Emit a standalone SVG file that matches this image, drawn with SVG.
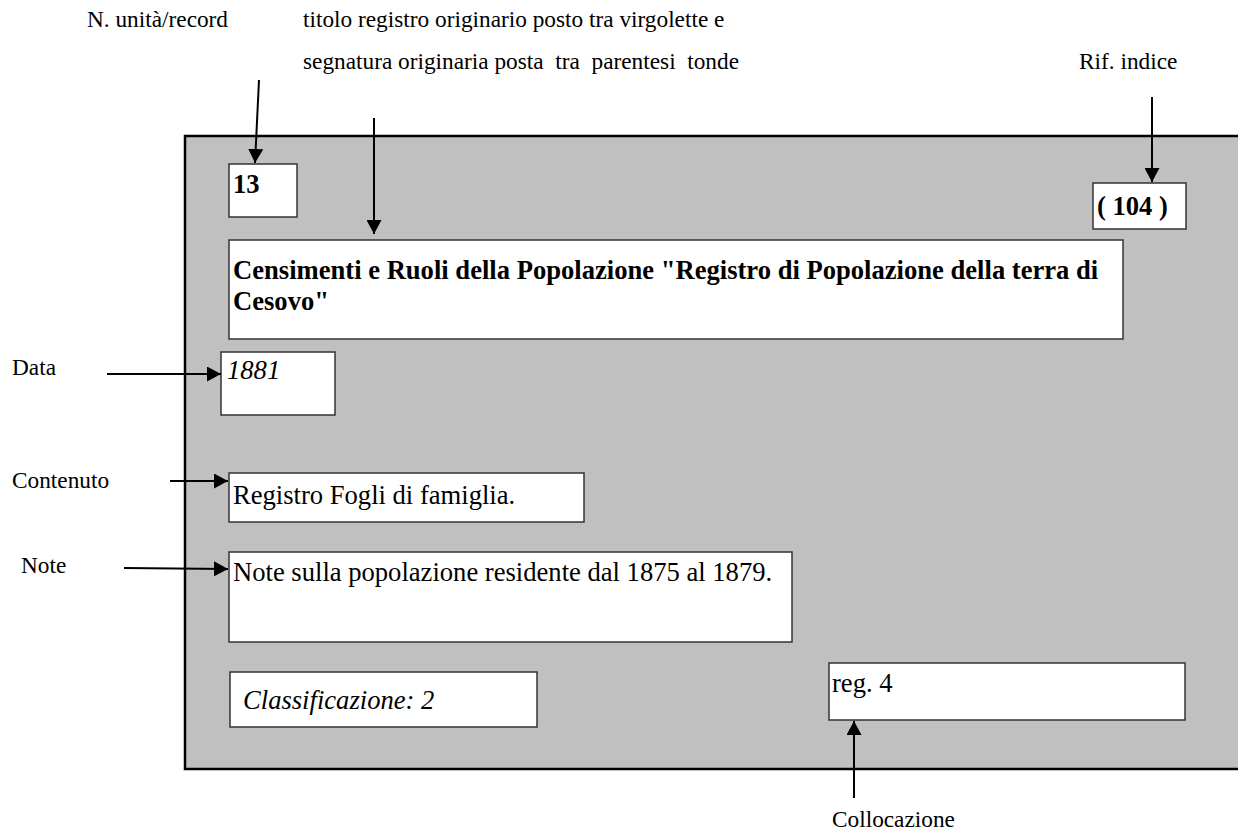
<svg xmlns="http://www.w3.org/2000/svg" width="1238" height="833" viewBox="0 0 1238 833">
<style>
.lbl{font-family:"Liberation Serif","Times New Roman",serif;font-size:23.3px;fill:#000}
.in{font-family:"Liberation Serif","Times New Roman",serif;font-size:26.6px;fill:#000}
.b{font-weight:bold}
.i{font-style:italic}
.box{fill:#fff;stroke:#333;stroke-width:1.5}
.con{stroke:#000;stroke-width:2;fill:none}
</style>
<defs>
<marker id="ah" viewBox="0 0 14 15" refX="14" refY="7.5" markerWidth="14" markerHeight="15" markerUnits="userSpaceOnUse" orient="auto">
<path d="M0,0 L14,7.5 L0,15 z" fill="#000"/>
</marker>
</defs>
<rect x="0" y="0" width="1238" height="833" fill="#fff"/>
<g id="panel">
<rect x="185" y="136" width="1070" height="633" fill="#c0c0c0" stroke="#000" stroke-width="2.5"/>
</g>
<g id="labels">
<text class="lbl" x="87" y="27">N. unità/record</text>
<text class="lbl" x="303" y="27">titolo registro originario posto tra virgolette e</text>
<text class="lbl" x="303" y="69" xml:space="preserve">segnatura originaria posta  tra  parentesi  tonde</text>
<text class="lbl" x="1079" y="69">Rif. indice</text>
<text class="lbl" x="12" y="375">Data</text>
<text class="lbl" x="12" y="488">Contenuto</text>
<text class="lbl" x="21" y="573">Note</text>
<text class="lbl" x="832" y="827">Collocazione</text>
</g>
<g id="node-numero">
<rect class="box" x="229" y="164" width="68" height="53"/>
<text class="in b" x="233" y="193">13</text>
</g>
<g id="node-rif">
<rect class="box" x="1093" y="183" width="93" height="46"/>
<text class="in b" x="1097" y="215">( 104 )</text>
</g>
<g id="node-titolo">
<rect class="box" x="229" y="240" width="894" height="99"/>
<text class="in b" x="233" y="279">Censimenti e Ruoli della Popolazione "Registro di Popolazione della terra di</text>
<text class="in b" x="233" y="310">Cesovo"</text>
</g>
<g id="node-data">
<rect class="box" x="221" y="352" width="114" height="63"/>
<text class="in i" x="227" y="379">1881</text>
</g>
<g id="node-contenuto">
<rect class="box" x="229" y="473" width="355" height="49"/>
<text class="in" x="233" y="504">Registro Fogli di famiglia.</text>
</g>
<g id="node-note">
<rect class="box" x="229" y="552" width="563" height="90"/>
<text class="in" x="233" y="581">Note sulla popolazione residente dal 1875 al 1879.</text>
</g>
<g id="node-classificazione">
<rect class="box" x="230" y="672" width="307" height="55"/>
<text class="in i" x="243" y="709">Classificazione: 2</text>
</g>
<g id="node-collocazione">
<rect class="box" x="829" y="663" width="356" height="57"/>
<text class="in" x="832" y="692">reg. 4</text>
</g>
<g id="connectors">
<line class="con" x1="259" y1="80" x2="255" y2="163" marker-end="url(#ah)"/>
<line class="con" x1="374" y1="118" x2="374" y2="234" marker-end="url(#ah)"/>
<line class="con" x1="1152" y1="97" x2="1152" y2="182" marker-end="url(#ah)"/>
<line class="con" x1="107" y1="374" x2="221" y2="374" marker-end="url(#ah)"/>
<line class="con" x1="170" y1="481" x2="228" y2="481" marker-end="url(#ah)"/>
<line class="con" x1="124" y1="568" x2="228" y2="569" marker-end="url(#ah)"/>
<line class="con" x1="854" y1="798" x2="854" y2="721" marker-end="url(#ah)"/>
</g>
</svg>
